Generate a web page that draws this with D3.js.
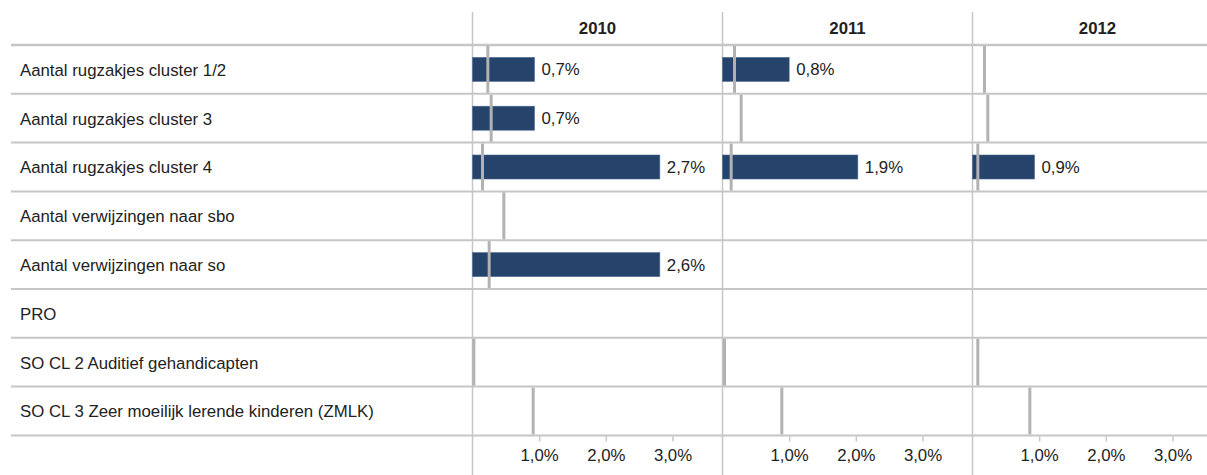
<!DOCTYPE html>
<html>
<head>
<meta charset="utf-8">
<script src="https://cdn.jsdelivr.net/npm/d3@7"></script>
<style>
  body { margin: 0; background: #fff; }
  text { font-family: "Liberation Sans", Arial, sans-serif; fill: #222; }
</style>
</head>
<body>
<script>
// categories (rows) and years (panels)
var categories = [
  "Aantal rugzakjes cluster 1/2",
  "Aantal rugzakjes cluster 3",
  "Aantal rugzakjes cluster 4",
  "Aantal verwijzingen naar sbo",
  "Aantal verwijzingen naar so",
  "PRO",
  "SO CL 2 Auditief gehandicapten",
  "SO CL 3 Zeer moeilijk lerende kinderen (ZMLK)"
];
var years = ["2010", "2011", "2012"];

// bar lengths in % (as drawn) per year, null = no bar
var bars2010 = [0.93, 0.93, 2.81, null, 2.81, null, null, null];
var bars2011 = [1.0, null, 2.03, null, null, null, null, null];
var bars2012 = [null, null, 0.93, null, null, null, null, null];

// printed labels next to the bars
var labels2010 = ["0,7%", "0,7%", "2,7%", null, "2,6%", null, null, null];
var labels2011 = ["0,8%", null, "1,9%", null, null, null, null, null];
var labels2012 = [null, null, "0,9%", null, null, null, null, null];

// grey reference markers in %
var ref2010 = [0.23, 0.28, 0.15, 0.47, 0.25, null, 0.02, 0.91];
var ref2011 = [0.18, 0.28, 0.13, null, null, null, 0.03, 0.89];
var ref2012 = [0.18, 0.23, 0.08, null, null, null, 0.08, 0.86];

var tickValues = [1, 2, 3];

var bars = [bars2010, bars2011, bars2012];
var labels = [labels2010, labels2011, labels2012];
var refs = [ref2010, ref2011, ref2012];

var width = 1207, height = 475;
var gridColor = "#c6c6c6";
var barColor = "#26436b";
var refColor = "#b2b2b2";

var labelLeft = 11, panelLeft = 472.5, panelWidth = 250;
var headerTop = 12, rowsTop = 45, rowsBottom = 435.4;

var svg = d3.select("body").append("svg")
    .attr("width", width)
    .attr("height", height);

var yScale = d3.scaleBand()
    .domain(categories)
    .range([rowsTop, rowsBottom])
    .paddingInner(0);

var barH = 24;

// row lines
var rowEdges = categories.map(function(c) { return yScale(c); }).concat([rowsBottom]);
svg.selectAll(".rowline")
    .data(rowEdges)
  .enter().append("line")
    .attr("class", "rowline")
    .attr("x1", labelLeft)
    .attr("x2", width)
    .attr("y1", function(d) { return d; })
    .attr("y2", function(d) { return d; })
    .attr("stroke", gridColor)
    .attr("stroke-width", function(d, i) { return i === 0 ? 2.5 : 2; });

// row labels
svg.selectAll(".rowlabel")
    .data(categories)
  .enter().append("text")
    .attr("class", "rowlabel")
    .attr("x", 20)
    .attr("y", function(d) { return yScale(d) + yScale.bandwidth() / 2 + 6.3; })
    .style("font-size", "16.8px")
    .text(function(d) { return d; });

years.forEach(function(year, p) {
  var x0 = panelLeft + p * panelWidth;
  var xScale = d3.scaleLinear().domain([0, 3.75]).range([x0, x0 + panelWidth]);

  // panel separator
  svg.append("line")
      .attr("x1", x0).attr("x2", x0)
      .attr("y1", headerTop).attr("y2", height)
      .attr("stroke", gridColor)
      .attr("stroke-width", 1.5);

  // year header
  svg.append("text")
      .attr("x", x0 + panelWidth / 2)
      .attr("y", 34)
      .attr("text-anchor", "middle")
      .style("font-size", "16.8px")
      .style("font-weight", "bold")
      .text(year);

  var g = svg.append("g");

  // bars
  g.selectAll(".bar")
      .data(bars[p].map(function(v, i) { return {v: v, c: categories[i], l: labels[p][i]}; })
              .filter(function(d) { return d.v != null; }))
    .enter().append("rect")
      .attr("class", "bar")
      .attr("x", xScale(0))
      .attr("y", function(d) { return yScale(d.c) + (yScale.bandwidth() - barH) / 2; })
      .attr("width", function(d) { return xScale(d.v) - xScale(0); })
      .attr("height", barH)
      .attr("fill", barColor)
      .attr("stroke", "#4d6a90")
      .attr("stroke-width", 0.6);

  g.selectAll(".barlabel")
      .data(bars[p].map(function(v, i) { return {v: v, c: categories[i], l: labels[p][i]}; })
              .filter(function(d) { return d.v != null; }))
    .enter().append("text")
      .attr("class", "barlabel")
      .attr("x", function(d) { return xScale(d.v) + 7; })
      .attr("y", function(d) { return yScale(d.c) + yScale.bandwidth() / 2 + 6; })
      .style("font-size", "16.8px")
      .text(function(d) { return d.l; });

  // reference markers
  g.selectAll(".ref")
      .data(refs[p].map(function(v, i) { return {v: v, c: categories[i]}; })
              .filter(function(d) { return d.v != null; }))
    .enter().append("line")
      .attr("class", "ref")
      .attr("x1", function(d) { return xScale(d.v); })
      .attr("x2", function(d) { return xScale(d.v); })
      .attr("y1", function(d) { return yScale(d.c) + 1; })
      .attr("y2", function(d) { return yScale(d.c) + yScale.bandwidth() - 1; })
      .attr("stroke", refColor)
      .attr("stroke-width", 3);

  // bottom axis
  var axis = svg.append("g")
      .attr("transform", "translate(0," + (rowsBottom + 1) + ")")
      .call(d3.axisBottom(xScale)
          .tickValues(tickValues)
          .tickSize(5)
          .tickPadding(8)
          .tickFormat(function(d) { return d3.format(".1f")(d).replace(".", ",") + "%"; }));
  axis.select(".domain").remove();
  axis.selectAll(".tick line").attr("stroke", gridColor).attr("stroke-width", 1.5);
  axis.selectAll(".tick text")
      .style("font-size", "16.8px")
      .style("font-family", "'Liberation Sans', Arial, sans-serif")
      .attr("fill", "#222");
});
</script>
</body>
</html>
